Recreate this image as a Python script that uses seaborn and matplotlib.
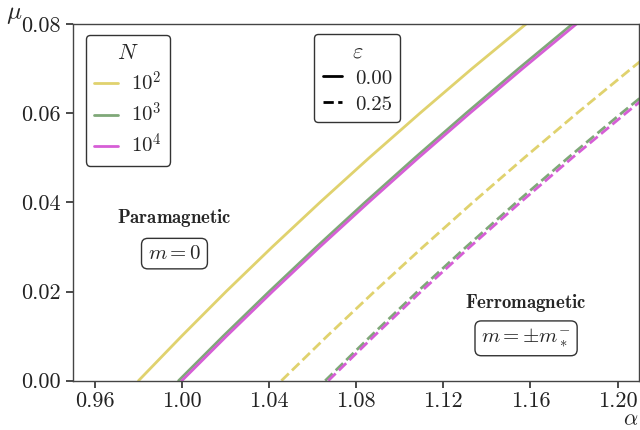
import numpy as np
import pandas as pd
import matplotlib
matplotlib.use('Agg')
import matplotlib.pyplot as plt
import seaborn as sns
from matplotlib.lines import Line2D

# mu grid and critical alpha, one list per (N, eps)
mu = [0.00, 0.01, 0.02, 0.03, 0.04, 0.05, 0.06, 0.07, 0.08]
alpha_N2_e0 = [0.9801, 0.9999, 1.0203, 1.0415, 1.0634, 1.0860, 1.1093, 1.1332, 1.1580]
alpha_N3_e0 = [0.9985, 1.0190, 1.0401, 1.0618, 1.0841, 1.1070, 1.1305, 1.1546, 1.1793]
alpha_N4_e0 = [1.0000, 1.0205, 1.0416, 1.0633, 1.0857, 1.1086, 1.1322, 1.1564, 1.1811]
alpha_N2_e25 = [1.0457, 1.0667, 1.0884, 1.1107, 1.1336, 1.1572, 1.1814, 1.2063, 1.2318]
alpha_N3_e25 = [1.0658, 1.0867, 1.1082, 1.1305, 1.1536, 1.1773, 1.2018, 1.2269, 1.2528]
alpha_N4_e25 = [1.0672, 1.0882, 1.1098, 1.1322, 1.1554, 1.1792, 1.2038, 1.2290, 1.2550]

N_labels = ['$10^2$', '$10^3$', '$10^4$']
eps_labels = ['0.00', '0.25']
colors = ['#E0D26E', '#7FA878', '#D65ED6']

x_ticks = [0.96, 1.00, 1.04, 1.08, 1.12, 1.16, 1.20]
y_ticks = [0.00, 0.02, 0.04, 0.06, 0.08]

curves = {
    ('$10^2$', '0.00'): alpha_N2_e0,
    ('$10^3$', '0.00'): alpha_N3_e0,
    ('$10^4$', '0.00'): alpha_N4_e0,
    ('$10^2$', '0.25'): alpha_N2_e25,
    ('$10^3$', '0.25'): alpha_N3_e25,
    ('$10^4$', '0.25'): alpha_N4_e25,
}
rows = []
for (n, e), alphas in curves.items():
    for a, m in zip(alphas, mu):
        rows.append({'alpha': a, 'mu': m, 'N': n, 'eps': e})
df = pd.DataFrame(rows)

sns.set_theme(style='ticks')
plt.rcParams['font.family'] = 'serif'
plt.rcParams['font.serif'] = ['cmr10', 'DejaVu Serif']
plt.rcParams['mathtext.fontset'] = 'cm'
plt.rcParams['axes.formatter.use_mathtext'] = True
plt.rcParams['axes.unicode_minus'] = False

fig = plt.figure(figsize=(6.4, 4.3), dpi=100)
ax = fig.add_axes([0.114, 0.1147, 0.885, 0.8295])

palette = dict(zip(N_labels, colors))
sns.lineplot(data=df, x='alpha', y='mu', hue='N', style='eps',
             hue_order=N_labels, style_order=eps_labels,
             palette=palette, dashes={'0.00': '', '0.25': (3.7, 1.6)},
             estimator=None, sort=True, lw=2, legend=False, ax=ax)

ax.set_xlim(0.95, 1.21)
ax.set_ylim(0, 0.08)
ax.set_xticks(x_ticks)
ax.set_yticks(y_ticks)
ax.set_xticklabels([f'{v:.2f}' for v in x_ticks])
ax.set_yticklabels([f'{v:.2f}' for v in y_ticks])
ax.tick_params(labelsize=16, length=5, color='#333333', labelcolor='#222222')
ax.tick_params(axis='x', pad=2.5)
for sp in ax.spines.values():
    sp.set_color('#444444')
    sp.set_linewidth(1.0)

ax.set_xlabel(r'$\alpha$', fontsize=16, va='bottom')
ax.set_ylabel(r'$\mu$', fontsize=18, rotation=0, va='center')
ax.xaxis.set_label_coords(0.985, -0.137)
ax.yaxis.set_label_coords(-0.104, 1.025)

# legends
h_N = [Line2D([], [], color=c, lw=2) for c in colors]
leg1 = ax.legend(h_N, N_labels, title='$N$', loc='upper left',
                 bbox_to_anchor=(0.023, 0.969), borderaxespad=0,
                 fontsize=15, title_fontsize=16, labelspacing=0.35,
                 handlelength=1.15, handletextpad=0.6, frameon=True,
                 fancybox=True, edgecolor='#333333', framealpha=1)
ax.add_artist(leg1)
h_e = [Line2D([], [], color='black', lw=2, ls='-'),
       Line2D([], [], color='black', lw=2, ls='--')]
leg2 = ax.legend(h_e, eps_labels, title=r'$\varepsilon$', loc='upper center',
                 bbox_to_anchor=(0.502, 0.972), borderaxespad=0,
                 fontsize=15, title_fontsize=16, labelspacing=0.35,
                 handlelength=0.95, handletextpad=0.6, frameon=True,
                 fancybox=True, edgecolor='#333333', framealpha=1)

box = dict(boxstyle='round,pad=0.3', fc='white', ec='#333333', lw=1)
ax.text(0.9966, 0.0365, r'$\mathbf{Paramagnetic}$', fontsize=13.5,
        ha='center', va='center')
ax.text(0.9966, 0.0285, r'$m=0$', fontsize=15, ha='center', va='center',
        bbox=box)
ax.text(1.158, 0.0174, r'$\mathbf{Ferromagnetic}$', fontsize=13.5,
        ha='center', va='center')
ax.text(1.158, 0.0095, r'$m=\pm m_*^{-}$', fontsize=15, ha='center',
        va='center', bbox=box)

fig.savefig('out.png', dpi=100, facecolor='white')
